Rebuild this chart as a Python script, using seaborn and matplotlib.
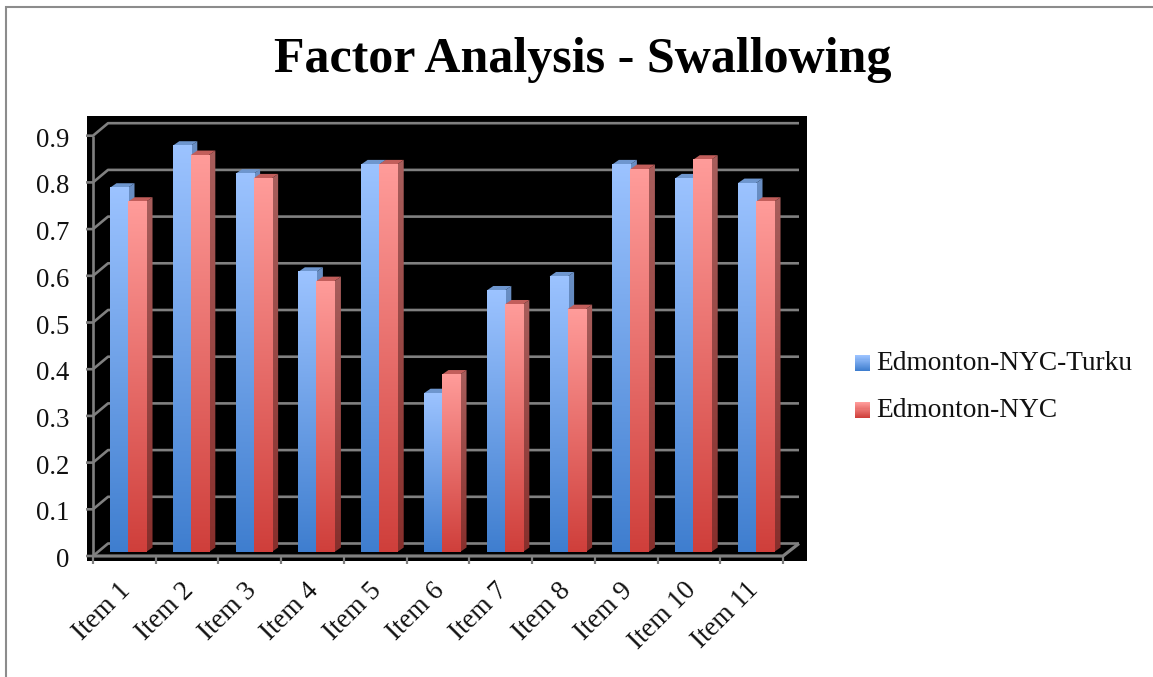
import matplotlib
matplotlib.use("Agg")
import matplotlib.pyplot as plt
import numpy as np
import pandas as pd
import seaborn as sns
from matplotlib.colors import LinearSegmentedColormap
from matplotlib.legend_handler import HandlerBase
from matplotlib.lines import Line2D
from matplotlib.patches import Polygon, Rectangle
from matplotlib.transforms import ScaledTranslation

items = ["Item 1", "Item 2", "Item 3", "Item 4", "Item 5", "Item 6",
         "Item 7", "Item 8", "Item 9", "Item 10", "Item 11"]
turku = [0.78, 0.87, 0.81, 0.60, 0.83, 0.34, 0.56, 0.59, 0.83, 0.80, 0.79]
nyc = [0.75, 0.85, 0.80, 0.58, 0.83, 0.38, 0.53, 0.52, 0.82, 0.84, 0.75]
series_names = ["Edmonton-NYC-Turku", "Edmonton-NYC"]
y_ticks = [0, 0.1, 0.2, 0.3, 0.4, 0.5, 0.6, 0.7, 0.8, 0.9]
y_labels = ["0", "0.1", "0.2", "0.3", "0.4", "0.5", "0.6", "0.7", "0.8", "0.9"]

FRONT = {series_names[0]: ("#9CC3FF", "#3F7ECF"), series_names[1]: ("#FF9C9A", "#CF3F3B")}
SIDE = {series_names[0]: ("#6A8FC4", "#2E5E9E"), series_names[1]: ("#A85E5C", "#872F2C")}
TOP = {series_names[0]: "#6E96CE", series_names[1]: "#C25E5B"}
GRID = "#808080"
FONT = "Liberation Serif"

# Data units per output pixel on each axis of the chart
W, H = 1153, 677
PX = 1 / 62.8
PY = 1 / 467
DEPTH_X, DEPTH_Y = 6.5 * PX, 4.5 * PY

sns.set_theme(style="white")
plt.rcParams["font.family"] = FONT
fig = plt.figure(figsize=(W / 100, H / 100), dpi=100)
ax = fig.add_axes([87 / W, (H - 561) / H, 720 / W, 445 / H])
ax.set_facecolor("black")

df = pd.DataFrame({
    "item": items * 2,
    "value": turku + nyc,
    "series": [series_names[0]] * len(items) + [series_names[1]] * len(items),
})
sns.barplot(data=df, x="item", y="value", hue="series", hue_order=series_names,
            width=0.574, gap=0, saturation=1, legend=False, ax=ax,
            palette=[FRONT[n][0] for n in series_names], zorder=1)

xlim = ((87 - 128) * PX, (807 - 128) * PX)
ylim = (-9 * PY, 436 * PY)


def shaded(colors, extent, zorder, clip=None):
    cmap = LinearSegmentedColormap.from_list("shade", colors)
    ramp = np.linspace(0, 1, 256).reshape(-1, 1)
    im = ax.imshow(ramp, cmap=cmap, extent=extent, aspect="auto", origin="upper",
                   interpolation="bilinear", zorder=zorder)
    if clip is not None:
        im.set_clip_path(clip)
    return im


# Give every seaborn bar its gradient front, a side face and a top face
for s, name in enumerate(series_names):
    container = ax.containers[s]
    base_z = 3 + 2 * s
    for patch in container:
        x0, w, v = patch.get_x(), patch.get_width(), patch.get_height()
        x1 = x0 + w
        patch.set_visible(False)
        side = Polygon([(x1, 0), (x1 + DEPTH_X, DEPTH_Y), (x1 + DEPTH_X, v + DEPTH_Y), (x1, v)],
                       closed=True, transform=ax.transData, facecolor="none", edgecolor="none")
        ax.add_patch(side)
        shaded(SIDE[name], (x1, x1 + DEPTH_X, 0, v + DEPTH_Y), base_z, clip=side)
        ax.add_patch(Polygon([(x0, v), (x0 + DEPTH_X, v + DEPTH_Y), (x1 + DEPTH_X, v + DEPTH_Y), (x1, v)],
                             closed=True, facecolor=TOP[name], edgecolor="none", zorder=base_z))
        shaded(FRONT[name], (x0, x1, 0, v), base_z + 1)

# Box-style frame: tick stubs, left wall and back wall lines
front_left, back_left = -35 * PX, -20 * PX
front_right, back_right = 655 * PX, 671 * PX
floor_shift = -4 * PY
wall_rise = 12.5 * PY
line_kw = dict(color=GRID, lw=1.9, solid_capstyle="butt", zorder=2, clip_on=False)
for v in y_ticks:
    yf = v + floor_shift
    ax.plot([front_left - 7 * PX, front_left, back_left, back_right],
            [yf, yf, yf + wall_rise, yf + wall_rise], **line_kw)
base = floor_shift
ax.plot([front_left, front_left], [base, y_ticks[-1] + base], **line_kw)
ax.plot([back_right, front_right, front_left], [base + wall_rise, base, base], zorder=8,
        color=GRID, lw=2.3, solid_capstyle="butt", clip_on=False)
for i in range(len(items) + 1):
    bx = front_left + i * (front_right - front_left) / len(items)
    ax.plot([bx, bx], [base, base - 8 * PY], zorder=8, color=GRID, lw=1.6,
            solid_capstyle="butt", clip_on=False)

ax.set_xlim(xlim)
ax.set_ylim(ylim)
sns.despine(ax=ax, left=True, bottom=True, right=True, top=True)
ax.set_xlabel("")
ax.set_ylabel("")

ax.set_yticks(y_ticks, y_labels)
ax.tick_params(axis="y", length=0, pad=13, labelsize=19.3, labelcolor="#111111")
shift_y = ScaledTranslation(0, -5.5 / 100, fig.dpi_scale_trans)
for lab in ax.get_yticklabels():
    lab.set_transform(lab.get_transform() + shift_y)

ax.set_xticks(range(len(items)), items)
ax.tick_params(axis="x", length=0, pad=12, labelsize=19.5, labelcolor="#111111")
shift_x = ScaledTranslation(-10 / 100, 0, fig.dpi_scale_trans)
for lab in ax.get_xticklabels():
    lab.set_rotation(45)
    lab.set_ha("right")
    lab.set_rotation_mode("anchor")
    lab.set_transform(lab.get_transform() + shift_x)

fig.text(583 / W, 1 - 60 / H, "Factor Analysis - Swallowing", ha="center", va="center",
         fontsize=36, fontweight="bold", color="black", family=FONT)

# Thin frame around the chart area, running off the right and bottom edges
frame_top = (H - 7) / H
fig.add_artist(Rectangle((6 / W, -0.1), 1.2, frame_top + 0.1, transform=fig.transFigure,
                         facecolor="none", edgecolor="#8C8C8C", lw=1.5))


class GradientSwatch(HandlerBase):
    def __init__(self, colors):
        super().__init__()
        self.colors = colors

    def create_artists(self, legend, orig_handle, xdescent, ydescent, width, height, fontsize, trans):
        cmap = LinearSegmentedColormap.from_list("swatch", self.colors)
        steps = 15
        return [Rectangle((xdescent, ydescent + height * (1 - (k + 1) / steps)), width, height / steps,
                          facecolor=cmap(k / (steps - 1)), edgecolor="none", transform=trans)
                for k in range(steps)]


handles = [Line2D([], [], label=n) for n in series_names]
fig.legend(handles=handles, labels=series_names, loc="center left",
           bbox_to_anchor=(855 / W, 1 - 387 / H), frameon=False, prop={"family": FONT, "size": 19.7},
           handler_map={h: GradientSwatch(FRONT[n]) for h, n in zip(handles, series_names)},
           handlelength=0.55, handleheight=0.55, handletextpad=0.22, labelspacing=0.8,
           borderpad=0, borderaxespad=0, labelcolor="#111111")

fig.savefig("out.png", dpi=100, facecolor="white")
